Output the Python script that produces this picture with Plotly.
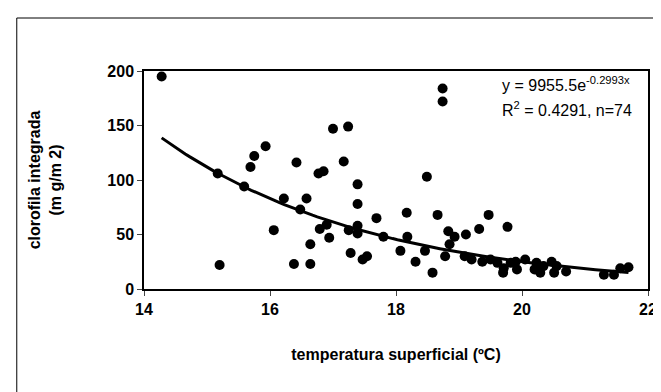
import numpy as np
import plotly.graph_objects as go

# Observed data (temperature °C, integrated chlorophyll mg/m2)
temp = [14.28, 15.17, 15.20, 15.59, 15.69, 15.75, 15.93, 16.42, 17.00, 17.24,
        16.77, 16.85, 17.17, 17.39, 17.39, 16.22, 16.58, 16.48, 16.06, 16.79,
        16.90, 16.94, 16.64, 16.38, 16.64, 17.25, 17.39, 17.39, 17.69, 17.80,
        17.28, 17.47, 17.54, 18.74, 18.74, 18.49, 18.17, 18.66, 19.47, 19.77,
        18.18, 18.07, 18.31, 18.46, 18.58, 18.83, 18.93, 19.11, 19.32, 18.85,
        18.78, 19.09, 19.20, 19.37, 19.50, 19.61, 19.71, 19.82, 19.70, 19.90,
        20.05, 19.92, 20.23, 20.34, 20.47, 20.55, 20.29, 20.51, 20.70, 21.30,
        21.46, 21.56, 21.69, 20.20]
chl = [195, 106, 22, 94, 112, 122, 131, 116, 147, 149,
       106, 108, 117, 96, 78, 83, 83, 73, 54, 55,
       59, 47, 41, 23, 23, 54, 58, 51, 65, 48,
       33, 27, 30, 184, 172, 103, 70, 68, 68, 57,
       48, 35, 25, 35, 15, 53, 48, 50, 55, 41,
       30, 30, 27, 25, 27, 24, 19, 24, 15, 25,
       27, 18, 24, 21, 25, 21, 15, 15, 16, 13,
       13, 19, 20, 18]

# Fitted exponential trend shown on the chart
coef_a = 9955.5
coef_b = -0.2993
fit_x = np.linspace(min(temp), max(temp), 100)
fit_y = coef_a * np.exp(coef_b * fit_x)

x_ticks = [14, 16, 18, 20, 22]
y_ticks = [0, 50, 100, 150, 200]

FONT = "Liberation Sans, Arial, sans-serif"

fig = go.Figure()
fig.add_trace(go.Scatter(x=fit_x, y=fit_y, mode="lines",
                         line=dict(color="black", width=3), hoverinfo="skip"))
fig.add_trace(go.Scatter(x=temp, y=chl, mode="markers",
                         marker=dict(color="black", size=10)))

fig.update_layout(
    width=661, height=392,
    margin=dict(l=136, r=14, t=63, b=111),
    paper_bgcolor="white", plot_bgcolor="white",
    showlegend=False,
    font=dict(family=FONT, color="black"),
    xaxis=dict(range=[14, 22], tickvals=x_ticks, ticks="outside", ticklen=5,
               showgrid=False, zeroline=False, showline=True, linecolor="black",
               linewidth=1.5, mirror=True,
               tickfont=dict(family=FONT, size=16, color="black", weight="bold"),
               title=dict(text="<b>temperatura superficial (ºC)</b>",
                          font=dict(family=FONT, size=16), standoff=32)),
    yaxis=dict(range=[0, 200], tickvals=y_ticks, ticks="outside", ticklen=5,
               showgrid=False, zeroline=False, showline=True, linecolor="black",
               linewidth=1.5, mirror=True,
               tickfont=dict(family=FONT, size=16, color="black", weight="bold"),
               title=dict(text="<b>clorofila integrada<br>(m g/m 2)</b>",
                          font=dict(family=FONT, size=16), standoff=42)),
)

fig.add_annotation(xref="paper", yref="paper", x=(497 - 136) / 511, y=(281 - 76) / 218,
                   xanchor="left", yanchor="middle", showarrow=False,
                   text="y = 9955.5e<sup>-0.2993x</sup>",
                   font=dict(family=FONT, size=16, color="black"))
fig.add_annotation(xref="paper", yref="paper", x=(497 - 136) / 511, y=(281 - 101) / 218,
                   xanchor="left", yanchor="middle", showarrow=False,
                   text="R<sup>2</sup> = 0.4291, n=74",
                   font=dict(family=FONT, size=16, color="black"))

# outer chart border
fig.add_shape(type="rect", xref="paper", yref="paper",
              x0=(7 - 136) / 511, x1=(657 - 136) / 511,
              y0=(281 - 390) / 218, y1=(281 - 10) / 218,
              line=dict(color="black", width=1))

fig.write_html("out.html")
